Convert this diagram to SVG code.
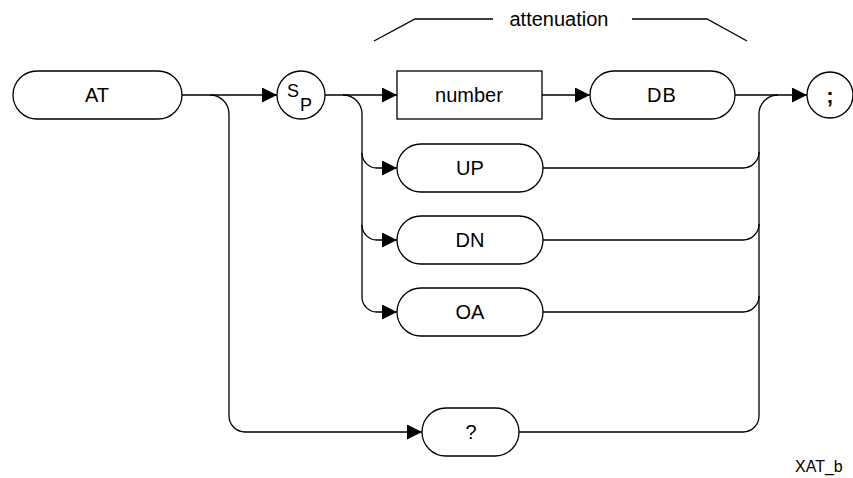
<svg xmlns="http://www.w3.org/2000/svg" width="853" height="478" viewBox="0 0 853 478">
<style>
.box{fill:#fff;stroke:#000;stroke-width:1.3}
.ln{fill:none;stroke:#000;stroke-width:1.3}
.t{font-family:"Liberation Sans",Arial,sans-serif;font-size:20px;fill:#000;text-anchor:middle}
</style>
<defs>
<marker id="arr" markerUnits="userSpaceOnUse" markerWidth="16" markerHeight="16" refX="15" refY="7.5" orient="auto">
<path d="M0,0 L15,7.5 L0,15 Z" fill="#000"/>
</marker>
</defs>
<g id="connectors">
<path class="ln" d="M182,95 H277" marker-end="url(#arr)"/>
<path class="ln" d="M325,95 H397" marker-end="url(#arr)"/>
<path class="ln" d="M542,95 H590" marker-end="url(#arr)"/>
<path class="ln" d="M735,95 H807" marker-end="url(#arr)"/>
<path class="ln" d="M343,95 A19,19 0 0 1 362,114 V297 A15,15 0 0 0 377,312 H397" marker-end="url(#arr)"/>
<path class="ln" d="M362,153 A15,15 0 0 0 377,168 H397" marker-end="url(#arr)"/>
<path class="ln" d="M362,225 A15,15 0 0 0 377,240 H397" marker-end="url(#arr)"/>
<path class="ln" d="M543,168 H743 A16,16 0 0 0 759,152"/>
<path class="ln" d="M543,240 H743 A16,16 0 0 0 759,224"/>
<path class="ln" d="M543,312 H743 A16,16 0 0 0 759,296"/>
<path class="ln" d="M519,432 H743 A16,16 0 0 0 759,416 V114 A19,19 0 0 1 778,95"/>
<path class="ln" d="M210,95 A19,19 0 0 1 229,114 V416 A16,16 0 0 0 245,432 H422" marker-end="url(#arr)"/>
</g>
<g id="label-attenuation">
<path class="ln" d="M374,41 L415,19 H493"/>
<path class="ln" d="M632,19 H707 L747,41"/>
<text class="t" x="559" y="26">attenuation</text>
</g>
<g id="node-AT">
<rect class="box" x="13" y="71" width="169" height="48" rx="24"/>
<text class="t" x="97" y="102">AT</text>
</g>
<g id="node-SP">
<circle class="box" cx="301" cy="95" r="24"/>
<text class="t" style="text-anchor:start;font-size:18px"><tspan x="287" y="97">S</tspan><tspan x="300" y="111">P</tspan></text>
</g>
<g id="node-number">
<rect class="box" x="397" y="71" width="145" height="48"/>
<text class="t" x="469" y="102">number</text>
</g>
<g id="node-DB">
<rect class="box" x="590" y="71" width="145" height="48" rx="24"/>
<text class="t" x="662" y="102" style="letter-spacing:1px">DB</text>
</g>
<g id="node-semicolon">
<circle class="box" cx="830" cy="95" r="23"/>
<text class="t" x="830" y="103" style="font-weight:bold;font-size:22px">;</text>
</g>
<g id="node-UP">
<rect class="box" x="397" y="144" width="146" height="48" rx="24"/>
<text class="t" x="470" y="175">UP</text>
</g>
<g id="node-DN">
<rect class="box" x="397" y="216" width="146" height="48" rx="24"/>
<text class="t" x="470" y="247">DN</text>
</g>
<g id="node-OA">
<rect class="box" x="397" y="288" width="146" height="48" rx="24"/>
<text class="t" x="470" y="319">OA</text>
</g>
<g id="node-query">
<rect class="box" x="422" y="408" width="97" height="48" rx="24"/>
<text class="t" x="471" y="439">?</text>
</g>
<text x="795" y="472" style="font-family:'Liberation Sans',Arial,sans-serif;font-size:16px;fill:#000">XAT_b</text>
</svg>
